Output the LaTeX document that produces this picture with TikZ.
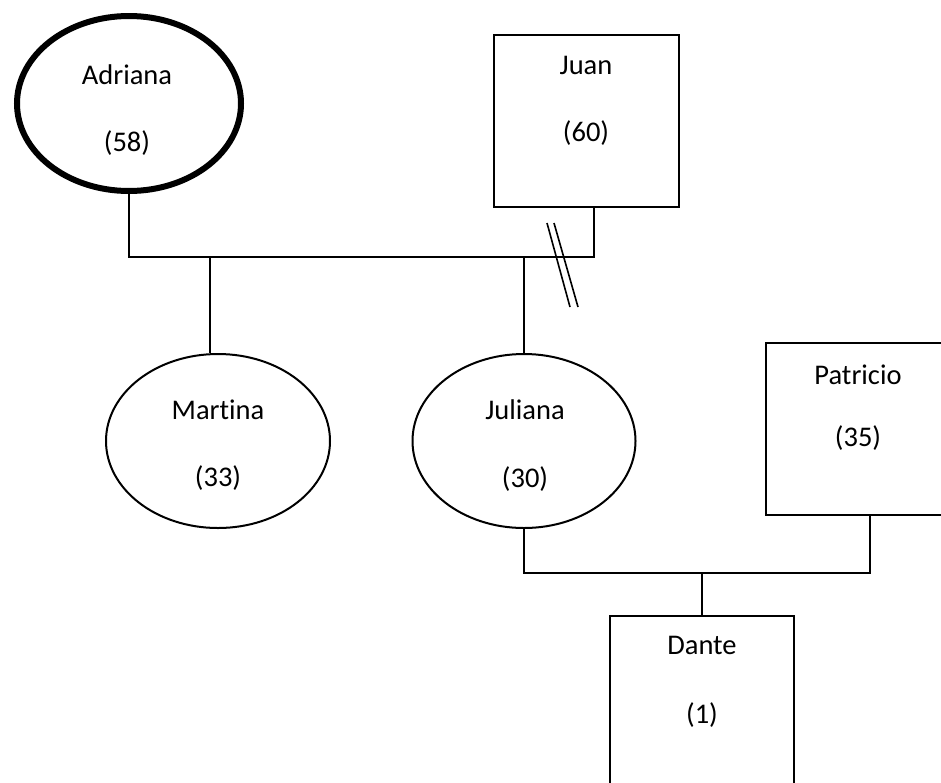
\documentclass[tikz,border=0pt]{standalone}
\usepackage{fontspec}
\setmainfont{Carlito}[Ligatures=NoCommon]
\usetikzlibrary{shapes.geometric}

\begin{document}
\begin{tikzpicture}[
      x=1pt, y=-1pt,
      female/.style={ellipse, draw, line width=2pt, inner sep=0pt, minimum width=224pt, minimum height=175pt},
      male/.style={rectangle, draw, line width=2pt, inner sep=0pt, minimum width=185pt, minimum height=172pt},
      txt/.style={font=\fontsize{28.5}{34}\selectfont, inner sep=0pt},
      link/.style={line width=2pt}
    ]
      \clip (0,0) rectangle (941,782);
      \useasboundingbox (0,0) rectangle (941,782);

      % Parents
      \node[female, line width=6pt] (adriana) at (129,103.5) {};
      \node[txt] (adriana_name) at (127,75) {Adriana};
      \node[txt] (adriana_age) at (127,143) {(58)};

      \node[male] (juan) at (586.5,121) {};
      \node[txt] (juan_name) at (586,65) {Juan};
      \node[txt] (juan_age) at (586,133) {(60)};

      \coordinate (couple1) at (362,257);
      \draw[link] (adriana.south) |- (couple1) -| ([xshift=7.5pt]juan.south);

      % divorce mark
      \draw[line width=1.6pt] (547,223) -- (570,307);
      \draw[line width=1.6pt] (554,223) -- (578,307);

      % Children
      \node[female, minimum width=224pt, minimum height=174pt] (martina) at (218,441) {};
      \node[txt] (martina_name) at (218,410) {Martina};
      \node[txt] (martina_age) at (218,478) {(33)};

      \node[female, minimum width=223pt, minimum height=174pt] (juliana) at (524,441) {};
      \node[txt] (juliana_name) at (525,410) {Juliana};
      \node[txt] (juliana_age) at (525,479) {(30)};

      \draw[link] ([xshift=-8pt]martina.north) -- ([xshift=-8pt]martina.north |- couple1);
      \draw[link] (juliana.north) -- (juliana.north |- couple1);

      % Juliana and Patricio
      \node[male, minimum width=184pt] (patricio) at (858,429) {};
      \node[txt] (patricio_name) at (858,375) {Patricio};
      \node[txt] (patricio_age) at (858,438) {(35)};

      \coordinate (couple2) at (702,573);
      \draw[link] (juliana.south) |- (couple2) -| ([xshift=12pt]patricio.south);

      \node[male, minimum width=184pt] (dante) at (702,702) {};
      \node[txt] (dante_name) at (702,645) {Dante};
      \node[txt] (dante_age) at (702,715) {(1)};

      \draw[link] (couple2) -- (dante.north);
    \end{tikzpicture}
\end{document}
